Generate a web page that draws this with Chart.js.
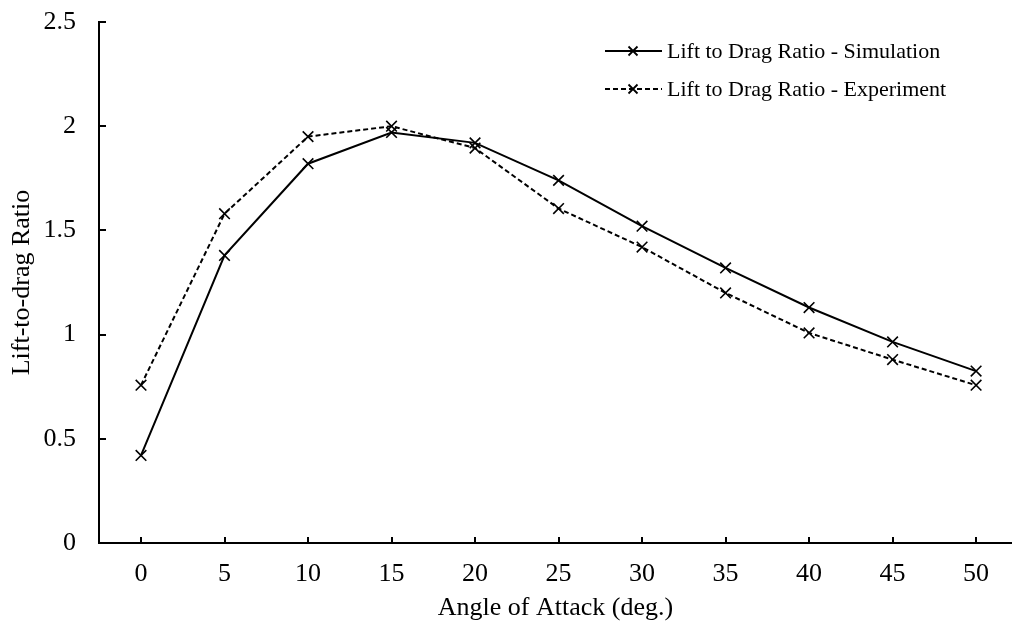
<!DOCTYPE html>
<html>
<head>
<meta charset="utf-8">
<script src="https://cdn.jsdelivr.net/npm/chart.js@4/dist/chart.umd.min.js"></script>
<style>
html,body{margin:0;padding:0;background:#fff;}
#wrap{width:1012px;height:624px;position:relative;}
</style>
</head>
<body>
<div id="wrap"><canvas id="c" width="1012" height="624"></canvas></div>
<script>
const angles = [0, 5, 10, 15, 20, 25, 30, 35, 40, 45, 50];
const simulation = [0.42, 1.38, 1.82, 1.97, 1.92, 1.74, 1.52, 1.32, 1.13, 0.965, 0.825];
const experiment = [0.757, 1.58, 1.95, 2.0, 1.895, 1.605, 1.42, 1.2, 1.008, 0.88, 0.757];
const xTicks = [0, 5, 10, 15, 20, 25, 30, 35, 40, 45, 50];
const yTicks = [0, 0.5, 1, 1.5, 2, 2.5];
const seriesNames = ['Lift to Drag Ratio - Simulation', 'Lift to Drag Ratio - Experiment'];

const FONT = '"Liberation Serif", "Times New Roman", serif';

const innerTicks = {
  id: 'innerTicks',
  afterDraw(chart) {
    const ctx = chart.ctx;
    const xs = chart.scales.x, ys = chart.scales.y;
    ctx.save();
    ctx.strokeStyle = '#000';
    ctx.lineWidth = 2;
    ctx.beginPath();
    yTicks.forEach(v => {
      const y = Math.round(ys.getPixelForValue(v));
      ctx.moveTo(xs.left, y);
      ctx.lineTo(xs.left + 7, y);
    });
    xTicks.forEach(v => {
      const x = Math.round(xs.getPixelForValue(v));
      ctx.moveTo(x, ys.bottom);
      ctx.lineTo(x, ys.bottom - 6);
    });
    ctx.stroke();
    ctx.restore();
  }
};

function drawCross(ctx, x, y, r) {
  ctx.beginPath();
  ctx.moveTo(x - r, y - r); ctx.lineTo(x + r, y + r);
  ctx.moveTo(x - r, y + r); ctx.lineTo(x + r, y - r);
  ctx.stroke();
}

const customLegend = {
  id: 'customLegend',
  afterDraw(chart) {
    const ctx = chart.ctx;
    ctx.save();
    ctx.strokeStyle = '#000';
    ctx.fillStyle = '#000';
    ctx.font = '22px ' + FONT;
    ctx.textBaseline = 'middle';
    const rows = [51, 89];
    rows.forEach((y, i) => {
      ctx.lineWidth = 2;
      ctx.setLineDash(i === 0 ? [] : [5, 3]);
      ctx.beginPath();
      ctx.moveTo(605, y); ctx.lineTo(662, y);
      ctx.stroke();
      ctx.setLineDash([]);
      ctx.lineWidth = 1.8;
      drawCross(ctx, 633, y, 4.5);
      ctx.fillText(seriesNames[i], 667, y + 1);
    });
    ctx.restore();
  }
};

new Chart(document.getElementById('c'), {
  type: 'line',
  data: {
    datasets: [
      {
        label: seriesNames[0],
        data: angles.map((a, i) => ({x: a, y: simulation[i]})),
        borderColor: '#000',
        borderWidth: 2,
        pointStyle: 'crossRot',
        pointRadius: 7.5,
        pointBorderWidth: 1.6,
        pointBorderColor: '#000',
        tension: 0
      },
      {
        label: seriesNames[1],
        data: angles.map((a, i) => ({x: a, y: experiment[i]})),
        borderColor: '#000',
        borderWidth: 2,
        borderDash: [5, 3],
        pointStyle: 'crossRot',
        pointRadius: 7.5,
        pointBorderWidth: 1.6,
        pointBorderColor: '#000',
        tension: 0
      }
    ]
  },
  options: {
    responsive: false,
    animation: false,
    devicePixelRatio: 1,
    layout: { autoPadding: false, padding: { top: 22, right: 0, left: 0, bottom: 0 } },
    plugins: { legend: { display: false }, tooltip: { enabled: false } },
    scales: {
      x: {
        type: 'linear',
        min: -2.515,
        max: 52.15,
        afterFit(scale) {
          scale.height = 81;
          scale.paddingLeft = 0; scale.paddingRight = 0;
          scale.paddingTop = 0; scale.paddingBottom = 0;
        },
        afterBuildTicks(scale) { scale.ticks = xTicks.map(v => ({value: v})); },
        ticks: {
          color: '#000',
          font: { family: FONT, size: 26 },
          padding: 16,
          maxRotation: 0,
          callback: v => String(v)
        },
        grid: { display: true, drawOnChartArea: false, drawTicks: false },
        border: { display: true, color: '#000', width: 2 },
        title: {
          display: true,
          text: 'Angle of Attack (deg.)',
          color: '#000',
          font: { family: FONT, size: 26 },
          padding: { top: 0, bottom: 0 }
        }
      },
      y: {
        type: 'linear',
        min: 0,
        max: 2.5,
        afterFit(scale) {
          scale.width = 99;
          scale.paddingLeft = 0; scale.paddingRight = 0;
          scale.paddingTop = 0; scale.paddingBottom = 0;
        },
        afterBuildTicks(scale) { scale.ticks = yTicks.map(v => ({value: v})); },
        ticks: {
          color: '#000',
          font: { family: FONT, size: 26 },
          padding: 23,
          callback: v => String(v)
        },
        grid: { display: true, drawOnChartArea: false, drawTicks: false },
        border: { display: true, color: '#000', width: 2 },
        title: {
          display: true,
          text: 'Lift-to-drag Ratio',
          color: '#000',
          font: { family: FONT, size: 26 },
          padding: { top: 7, bottom: 0 }
        }
      }
    }
  },
  plugins: [innerTicks, customLegend]
});
</script>
</body>
</html>
